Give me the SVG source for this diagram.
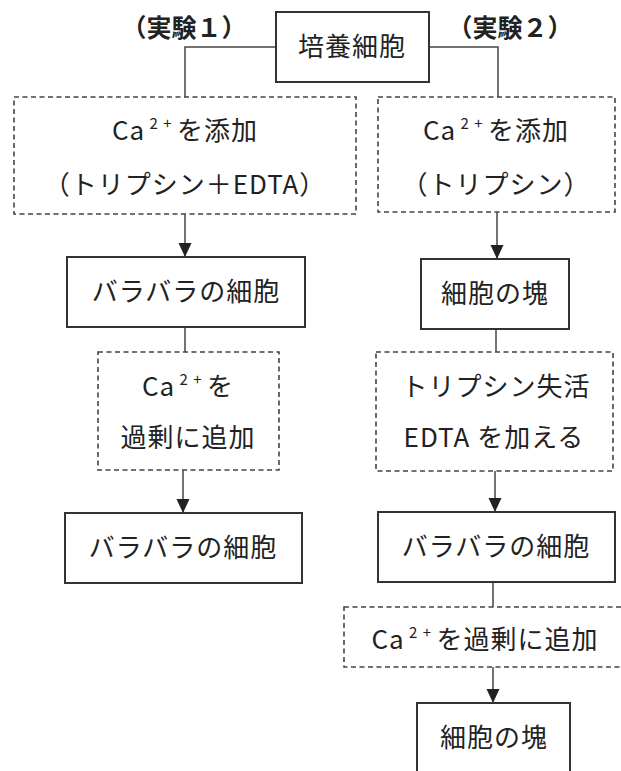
<svg xmlns="http://www.w3.org/2000/svg" width="621" height="771" viewBox="0 0 621 771">
<style>
.bg{fill:#fff}
.solid{fill:#fff;stroke:#333;stroke-width:2}
.dash{fill:#fff;stroke:#444;stroke-width:1.6;stroke-dasharray:5 3.5}
.con{fill:none;stroke:#444;stroke-width:1.5}
.t{font-family:"Noto Sans CJK JP","Noto Sans",sans-serif;font-size:26px;fill:#222;text-anchor:middle;letter-spacing:1px}
.h{font-family:"Noto Sans CJK JP","Noto Sans",sans-serif;font-size:25px;font-weight:bold;fill:#222;text-anchor:middle}
.sup{font-size:15px}
</style>
<defs>
<marker id="arr" markerUnits="userSpaceOnUse" markerWidth="16" markerHeight="16" viewBox="0 0 16 16" refX="14" refY="8" orient="auto">
<path d="M0,1.5 L14,8 L0,14.5 Z" fill="#222"/>
</marker>
</defs>
<rect class="bg" x="0" y="0" width="621" height="771"/>

<g id="connectors">
<polyline class="con" points="276,47 185,47 185,97"/>
<polyline class="con" points="429,47 498,47 498,97"/>
<line class="con" x1="185" y1="214" x2="185" y2="257" marker-end="url(#arr)"/>
<line class="con" x1="185" y1="327" x2="185" y2="352"/>
<line class="con" x1="183" y1="470" x2="183" y2="513" marker-end="url(#arr)"/>
<line class="con" x1="497" y1="212" x2="497" y2="259" marker-end="url(#arr)"/>
<line class="con" x1="496" y1="329" x2="496" y2="352"/>
<line class="con" x1="495" y1="471" x2="495" y2="512" marker-end="url(#arr)"/>
<line class="con" x1="493" y1="582" x2="493" y2="607"/>
<line class="con" x1="493" y1="667" x2="493" y2="703" marker-end="url(#arr)"/>
</g>

<g id="label-exp1"><text class="h" x="184" y="37">（実験１）</text></g>
<g id="label-exp2"><text class="h" x="510" y="37">（実験２）</text></g>

<g id="start">
<rect class="solid" x="276" y="12" width="153" height="70"/>
<text class="t" x="352" y="56">培養細胞</text>
</g>

<g id="exp1-step1">
<rect class="dash" x="14" y="97" width="342" height="117"/>
<text class="t" x="185" y="140">Ca<tspan class="sup" dy="-11"> 2 + </tspan><tspan dy="11">を添加</tspan></text>
<text class="t" x="185" y="194">（トリプシン＋EDTA）</text>
</g>

<g id="exp1-result1">
<rect class="solid" x="67" y="257" width="238" height="70"/>
<text class="t" x="186" y="301">バラバラの細胞</text>
</g>

<g id="exp1-step2">
<rect class="dash" x="98" y="352" width="181" height="118"/>
<text class="t" x="188" y="396">Ca<tspan class="sup" dy="-11"> 2 + </tspan><tspan dy="11">を</tspan></text>
<text class="t" x="188" y="447">過剰に追加</text>
</g>

<g id="exp1-result2">
<rect class="solid" x="65" y="513" width="237" height="70"/>
<text class="t" x="183" y="557">バラバラの細胞</text>
</g>

<g id="exp2-step1">
<rect class="dash" x="378" y="97" width="237" height="115"/>
<text class="t" x="496" y="140">Ca<tspan class="sup" dy="-11"> 2 + </tspan><tspan dy="11">を添加</tspan></text>
<text class="t" x="496" y="194">（トリプシン）</text>
</g>

<g id="exp2-result1">
<rect class="solid" x="421" y="259" width="148" height="70"/>
<text class="t" x="495" y="303">細胞の塊</text>
</g>

<g id="exp2-step2">
<rect class="dash" x="376" y="352" width="237" height="119"/>
<text class="t" x="496" y="396">トリプシン失活</text>
<text class="t" x="494" y="447">EDTA を加える</text>
</g>

<g id="exp2-result2">
<rect class="solid" x="378" y="512" width="237" height="70"/>
<text class="t" x="496" y="556">バラバラの細胞</text>
</g>

<g id="exp2-step3">
<rect class="dash" x="344" y="607" width="282" height="60"/>
<text class="t" x="485" y="649">Ca<tspan class="sup" dy="-11"> 2 + </tspan><tspan dy="11">を過剰に追加</tspan></text>
</g>

<g id="exp2-result3">
<rect class="solid" x="417" y="703" width="153" height="80"/>
<text class="t" x="494" y="747">細胞の塊</text>
</g>
</svg>
